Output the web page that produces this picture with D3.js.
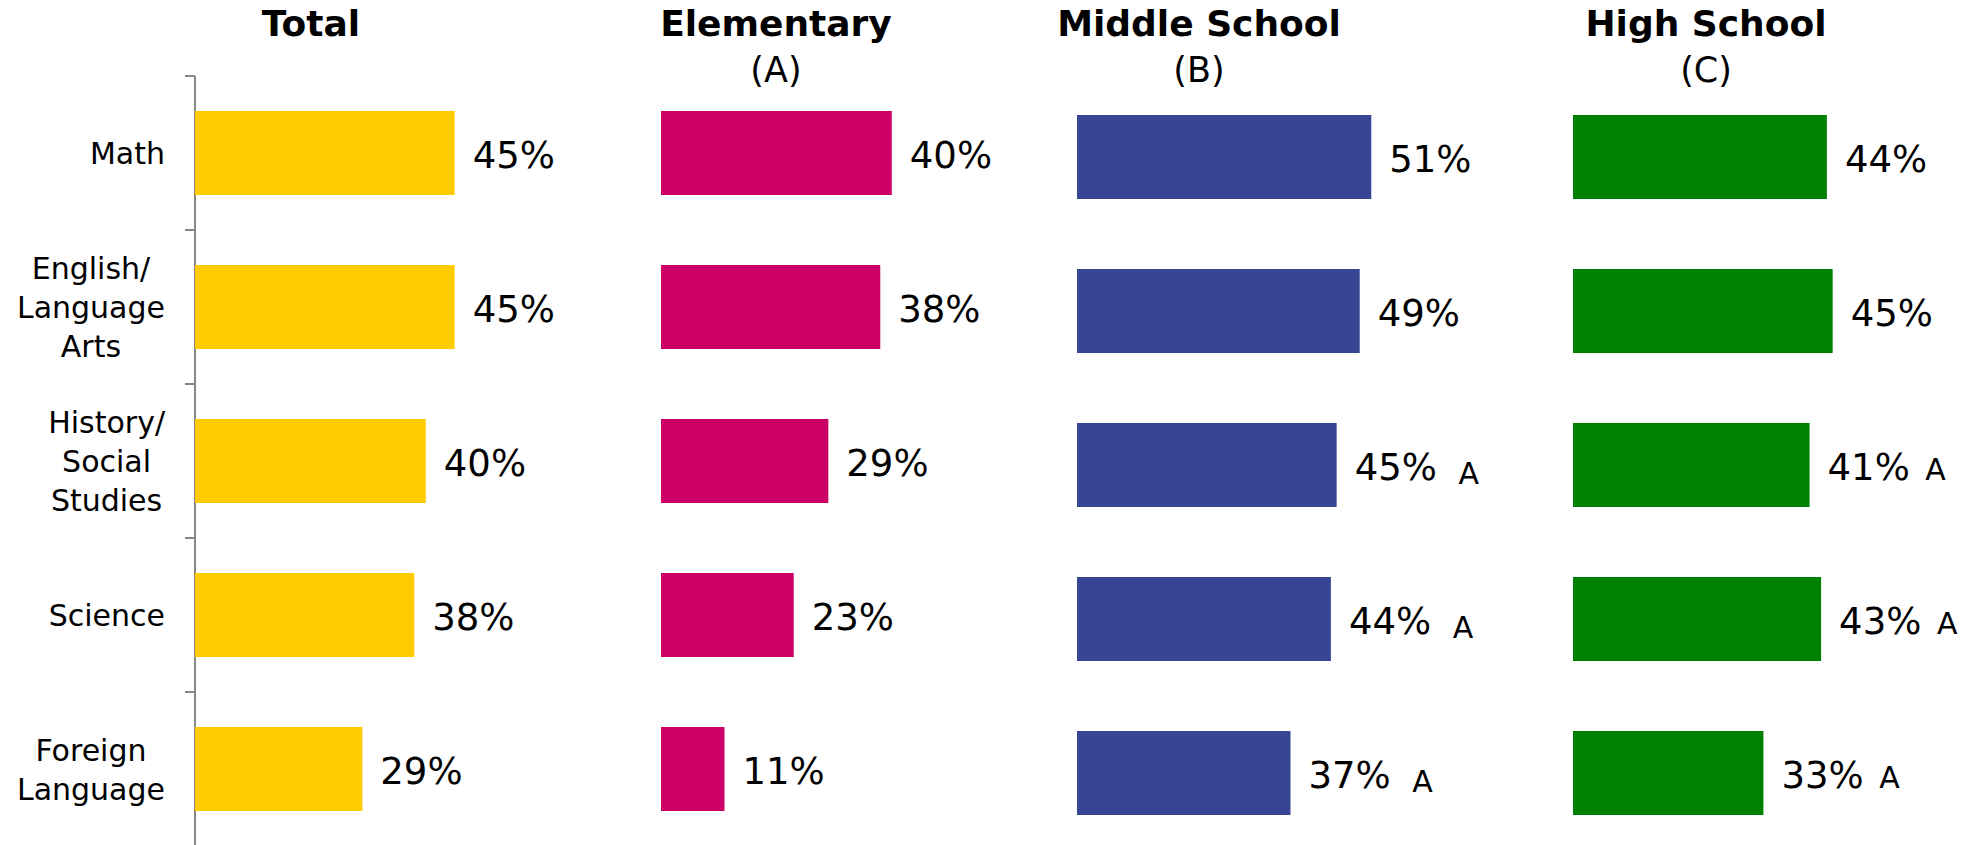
<!DOCTYPE html>
<html>
<head>
<meta charset="utf-8">
<script src="https://cdn.jsdelivr.net/npm/d3@7"></script>
<style>
  body { margin: 0; background: #fff; }
  text { font-family: "DejaVu Sans", Verdana, sans-serif; fill: #000; }
</style>
</head>
<body>
<div class="canvas"></div>
<script>
// data
const categories = ["Math", "English/\nLanguage\nArts", "History/\nSocial\nStudies", "Science", "Foreign\nLanguage"];
const totalValues = [45, 45, 40, 38, 29];
const elementaryValues = [40, 38, 29, 23, 11];
const middleValues = [51, 49, 45, 44, 37];
const highValues = [44, 45, 41, 43, 33];
const middleSig = ["", "", "A", "A", "A"];
const highSig = ["", "", "A", "A", "A"];
const panelTitles = ["Total", "Elementary", "Middle School", "High School"];
const panelSubtitles = ["", "(A)", "(B)", "(C)"];

const dims = {width: 1976, height: 845};

// layout per panel
const panels = [
  {values: totalValues, sig: null, color: "#FFCC00", left: 195, titleX: 311, shift: 0, sigDx: 0, sigDy: 0},
  {values: elementaryValues, sig: null, color: "#CC0066", left: 661, titleX: 776, shift: 0, sigDx: 0, sigDy: 0},
  {values: middleValues, sig: middleSig, color: "#374594", left: 1077, titleX: 1199, shift: 4, sigDx: 12, sigDy: 4},
  {values: highValues, sig: highSig, color: "#008000", left: 1573, titleX: 1706, shift: 4, sigDx: 6, sigDy: 0}
].map((p, i) => ({...p, title: panelTitles[i], sub: panelSubtitles[i]}));

const svg = d3.select(".canvas").append("svg")
    .attr("width", dims.width)
    .attr("height", dims.height);

svg.append("rect").attr("width", dims.width).attr("height", dims.height).attr("fill", "#fff");

const x = d3.scaleLinear().domain([0, 100]).range([0, 577]);
const y = d3.scaleBand()
    .domain(categories)
    .range([76, 846])
    .paddingInner(70 / 154)
    .paddingOuter(35 / 154);

// axis of the first panel (ticks sit between categories)
const axis = svg.append("g").attr("class", "axis");
axis.append("line")
    .attr("x1", 195).attr("x2", 195)
    .attr("y1", y.range()[0]).attr("y2", y.range()[1])
    .attr("stroke", "#888").attr("stroke-width", 2);
axis.selectAll(".tick")
    .data(d3.range(categories.length + 1))
    .enter().append("line")
    .attr("x1", 185).attr("x2", 195)
    .attr("y1", i => y.range()[0] + i * y.step())
    .attr("y2", i => y.range()[0] + i * y.step())
    .attr("stroke", "#888").attr("stroke-width", 2);

// category labels: lines centred on each other, block right-aligned
categories.forEach(c => {
    const lines = c.split("\n");
    const cy = y(c) + y.bandwidth() / 2;
    const g = svg.append("g");
    const texts = lines.map((l, i) => g.append("text")
        .attr("font-size", 30)
        .attr("text-anchor", "middle")
        .attr("y", cy + 11 + (i - (lines.length - 1) / 2) * 39)
        .text(l));
    const maxW = d3.max(texts, t => t.node().getComputedTextLength());
    texts.forEach(t => t.attr("x", 165 - maxW / 2));
});

panels.forEach(p => {
    const g = svg.append("g").attr("transform", `translate(${p.left}, ${p.shift})`);

    g.selectAll("rect")
        .data(p.values)
        .enter().append("rect")
        .attr("x", 0)
        .attr("y", (d, i) => y(categories[i]))
        .attr("width", d => x(d))
        .attr("height", y.bandwidth())
        .attr("fill", p.color);

    const labels = g.selectAll(".val")
        .data(p.values)
        .enter().append("text")
        .attr("class", "val")
        .attr("font-size", 37)
        .attr("x", d => x(d) + 18)
        .attr("y", (d, i) => y(categories[i]) + y.bandwidth() / 2 + 15);

    labels.append("tspan").text(d => d + "%");
    if (p.sig) {
        labels.append("tspan")
            .attr("font-size", 30)
            .attr("dx", p.sigDx)
            .attr("dy", p.sigDy)
            .text((d, i) => p.sig[i] ? " " + p.sig[i] : "");
    }

    svg.append("text")
        .attr("x", p.titleX).attr("y", 36)
        .attr("text-anchor", "middle")
        .attr("font-size", 36)
        .attr("font-weight", "bold")
        .text(p.title);

    if (p.sub) {
        svg.append("text")
            .attr("x", p.titleX).attr("y", 82)
            .attr("text-anchor", "middle")
            .attr("font-size", 35)
            .text(p.sub);
    }
});
</script>
</body>
</html>
